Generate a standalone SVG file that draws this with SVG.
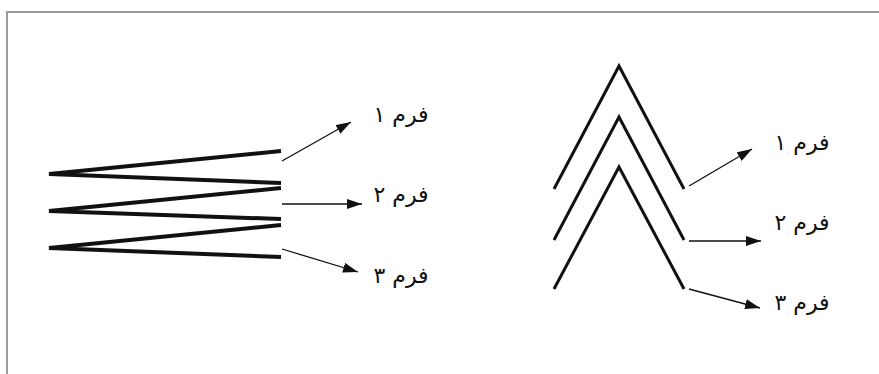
<svg xmlns="http://www.w3.org/2000/svg" width="879" height="374" viewBox="0 0 879 374">
<style>
.frame{fill:none;stroke:#9a9a9a;stroke-width:2}
.zig{fill:none;stroke:#111;stroke-width:4;stroke-linejoin:miter;stroke-linecap:butt}
.chev{fill:none;stroke:#111;stroke-width:3;stroke-linejoin:miter;stroke-linecap:butt}
.arr{fill:none;stroke:#111;stroke-width:1.3}
.lbl{font-family:"DejaVu Sans","Noto Sans",sans-serif;font-size:22px;fill:#111;text-anchor:middle}
</style>
<defs>
<marker id="ah" markerUnits="userSpaceOnUse" markerWidth="16" markerHeight="10" refX="15" refY="5" orient="auto">
<path d="M0,0 L15,5 L0,10 Z" fill="#111"/>
</marker>
</defs>
<path class="frame" d="M7,374 V12 H879"/>
<g id="left-zigzag">
<polyline class="zig" points="281,151 49,174 281,183"/>
<polyline class="zig" points="281,188 49,211 281,219"/>
<polyline class="zig" points="281,225 49,248 281,257"/>
</g>
<g id="right-chevrons">
<polyline class="chev" points="554,189 619,66 684,189"/>
<polyline class="chev" points="554,240 619,117 684,240"/>
<polyline class="chev" points="554,289 619,167 684,289"/>
</g>
<g id="connectors">
<line class="arr" x1="282" y1="161" x2="351" y2="122" marker-end="url(#ah)"/>
<line class="arr" x1="282" y1="204" x2="362" y2="204" marker-end="url(#ah)"/>
<line class="arr" x1="282" y1="249" x2="358" y2="272" marker-end="url(#ah)"/>
<line class="arr" x1="689" y1="186" x2="752" y2="149" marker-end="url(#ah)"/>
<line class="arr" x1="689" y1="241" x2="761" y2="241" marker-end="url(#ah)"/>
<line class="arr" x1="689" y1="289" x2="760" y2="308" marker-end="url(#ah)"/>
</g>
<g id="label-l1"><text class="lbl" x="401" y="122">فرم ۱</text></g>
<g id="label-l2"><text class="lbl" x="401" y="202">فرم ۲</text></g>
<g id="label-l3"><text class="lbl" x="401" y="283">فرم ۳</text></g>
<g id="label-r1"><text class="lbl" x="802" y="150">فرم ۱</text></g>
<g id="label-r2"><text class="lbl" x="802" y="230">فرم ۲</text></g>
<g id="label-r3"><text class="lbl" x="802" y="310">فرم ۳</text></g>
</svg>
